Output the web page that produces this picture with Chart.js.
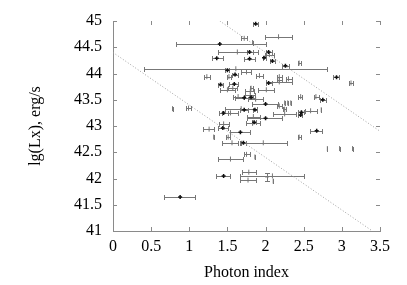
<!DOCTYPE html>
<html><head><meta charset="utf-8">
<script src="https://cdn.jsdelivr.net/npm/chart.js@4"></script>
<style>html,body{margin:0;padding:0;background:#fff;}canvas{display:block;}</style>
</head><body>
<canvas id="c" width="407" height="285"></canvas>
<script>
// ---- data ----
const xTicks = [0, 0.5, 1, 1.5, 2, 2.5, 3, 3.5];
const yTicks = [41, 41.5, 42, 42.5, 43, 43.5, 44, 44.5, 45];

// objects marked with a black "+"
const darkX  = [1.87,1.40,1.79,2.04,1.36,1.79,1.98,2.09,2.26,1.50,1.60,2.93,2.04,1.59,1.41,1.72,1.81,1.86,1.45,2.00,2.47,2.46,2.00,1.85,1.44,1.67,1.71,1.45,2.67,0.88,2.75,1.72];
const darkY  = [44.95,44.56,44.41,44.41,44.29,44.28,44.30,44.24,44.15,44.06,43.98,43.93,43.82,43.80,43.79,43.54,43.55,43.31,43.25,43.42,43.26,43.21,43.15,43.07,42.96,42.88,42.68,42.05,42.91,41.65,43.50,43.31];
const darkLo = [1.84,0.82,1.75,2.01,1.30,1.72,1.96,2.06,2.21,1.47,1.56,2.89,2.00,1.52,1.38,1.60,1.79,1.83,1.39,1.82,2.43,2.43,1.76,1.82,1.37,1.54,1.68,1.35,2.58,0.67,2.72,1.67];
const darkHi = [1.90,2.01,1.83,2.08,1.44,1.86,2.01,2.13,2.31,1.52,1.64,2.96,2.08,1.64,1.44,1.86,1.84,1.89,1.51,2.16,2.51,2.48,2.22,1.88,1.51,1.80,1.74,1.54,2.74,1.08,2.79,1.77];

// objects drawn in grey
const grayX  = [2.17,1.72,1.83,1.63,2.05,2.44,1.61,1.75,1.92,1.23,1.52,2.18,2.30,2.18,2.18,3.12,1.81,2.01,1.50,1.80,1.64,1.80,2.46,2.66,1.87,2.18,2.25,2.29,2.33,2.25,1.68,2.59,2.73,2.25,1.54,0.99,0.78,1.84,1.45,1.83,1.26,1.32,1.51,2.44,1.56,1.97,1.75,1.86,1.54,2.81,2.97,3.14,2.09,1.78,1.77,2.10,1.57];
const grayY  = [44.70,44.67,44.59,44.41,44.36,44.20,44.09,44.03,43.96,43.94,43.94,43.94,43.90,43.88,43.84,43.82,43.72,43.69,43.69,43.66,43.56,43.59,43.56,43.56,43.51,43.38,43.44,43.44,43.44,43.32,43.33,43.29,43.31,43.23,43.25,43.34,43.33,43.18,43.04,43.05,42.94,42.79,42.79,42.79,42.68,42.68,42.46,42.41,42.37,42.57,42.57,42.57,42.05,42.12,41.97,41.95,43.72];
const grayLo = [1.99,1.68,1.83,1.37,1.99,2.42,0.40,1.68,1.88,1.19,1.50,2.15,2.27,2.15,2.01,3.09,1.79,1.90,1.40,1.73,1.57,1.73,2.43,2.63,1.77,2.15,2.25,2.29,2.33,2.23,1.47,2.52,2.73,2.10,1.43,0.96,0.78,1.76,1.39,1.74,1.18,1.32,1.48,2.42,1.43,1.67,1.72,1.86,1.37,2.81,2.97,3.14,1.67,1.69,1.67,2.10,1.51];
const grayHi = [2.35,1.76,1.83,1.90,2.11,2.47,2.81,1.81,1.96,1.27,1.55,2.21,2.34,2.21,2.35,3.15,1.84,2.11,1.60,1.85,1.72,1.86,2.48,2.70,1.97,2.22,2.25,2.29,2.33,2.27,1.89,2.67,2.73,2.40,1.64,1.02,0.78,1.93,1.52,1.93,1.33,1.32,1.54,2.47,1.64,2.28,1.79,1.86,1.71,2.81,2.97,3.14,2.51,1.87,1.88,2.10,1.63];

// one object with a vertical error bar
const vertX  = [2.02];
const vertY  = [42.03];
const vertLo = [41.95];
const vertHi = [42.11];

// dotted boundary lines
const lowLineX  = [0, 3.4];
const lowLineY  = [44.4, 41];
const highLineX = [1.4, 3.5];
const highLineY = [45, 42.9];

// ---- build ----
const pts = (X, Y, L, H) => X.map((x, i) => ({x: x, y: Y[i], xlo: L ? L[i] : x, xhi: H ? H[i] : x}));
const vpts = (X, Y, L, H) => X.map((x, i) => ({x: x, y: Y[i], ylo: L[i], yhi: H[i]}));
const linePts = (X, Y) => X.map((x, i) => ({x: x, y: Y[i]}));

const BAR = '#777777';
const AXIS = '#8a8a8a';
const CAP = 2.5;
const FONT = {family: '"Liberation Serif", "Times New Roman", serif', size: 16};

const errorBars = {
  id: 'errorBars',
  beforeDatasetsDraw(chart) {
    const {ctx, scales: {x, y}, chartArea: a} = chart;
    ctx.save();
    ctx.beginPath(); ctx.rect(a.left, a.top, a.right - a.left, a.bottom - a.top); ctx.clip();
    ctx.strokeStyle = BAR; ctx.lineWidth = 1;
    chart.data.datasets.forEach(ds => {
      if (!ds.errKind) return;
      ds.data.forEach(p => {
        if (ds.errKind === 'x') {
          const yp = Math.round(y.getPixelForValue(p.y)) + 0.5;
          const x1 = Math.round(x.getPixelForValue(p.xlo)) + 0.5;
          const x2 = Math.round(x.getPixelForValue(p.xhi)) + 0.5;
          ctx.beginPath();
          ctx.moveTo(x1, yp); ctx.lineTo(x2, yp);
          ctx.moveTo(x1, yp - CAP); ctx.lineTo(x1, yp + CAP);
          ctx.moveTo(x2, yp - CAP); ctx.lineTo(x2, yp + CAP);
          ctx.stroke();
        } else {
          const xp = Math.round(x.getPixelForValue(p.x)) + 0.5;
          const y1 = Math.round(y.getPixelForValue(p.ylo)) + 0.5;
          const y2 = Math.round(y.getPixelForValue(p.yhi)) + 0.5;
          ctx.beginPath();
          ctx.moveTo(xp, y1); ctx.lineTo(xp, y2);
          ctx.moveTo(xp - CAP, y1); ctx.lineTo(xp + CAP, y1);
          ctx.moveTo(xp - CAP, y2); ctx.lineTo(xp + CAP, y2);
          ctx.stroke();
        }
      });
    });
    ctx.restore();
  }
};

const mirrorTicks = {
  id: 'mirrorTicks',
  afterDraw(chart) {
    const {ctx, scales: {x, y}, chartArea: a} = chart;
    const L = 4;
    ctx.save();
    ctx.strokeStyle = AXIS; ctx.lineWidth = 1;
    ctx.beginPath();
    x.ticks.forEach(t => {
      const px = Math.round(x.getPixelForValue(t.value)) + 0.5;
      ctx.moveTo(px, a.bottom); ctx.lineTo(px, a.bottom - L);
      ctx.moveTo(px, a.top); ctx.lineTo(px, a.top + L);
    });
    y.ticks.forEach(t => {
      const py = Math.round(y.getPixelForValue(t.value)) + 0.5;
      ctx.moveTo(a.left, py); ctx.lineTo(a.left + L, py);
      ctx.moveTo(a.right, py); ctx.lineTo(a.right - L, py);
    });
    ctx.stroke();
    ctx.restore();
  }
};

new Chart(document.getElementById('c'), {
  type: 'scatter',
  data: {
    datasets: [
      {data: pts(darkX, darkY, darkLo, darkHi), errKind: 'x', pointStyle: 'cross', pointRadius: 2, borderWidth: 1.5, borderColor: '#111', backgroundColor: '#111'},
      {data: pts(grayX, grayY, grayLo, grayHi), errKind: 'x', pointStyle: 'line', rotation: 90, pointRadius: 2.5, borderWidth: 1, borderColor: BAR, backgroundColor: BAR},
      {data: vpts(vertX, vertY, vertLo, vertHi), errKind: 'y', pointStyle: 'line', pointRadius: 2, borderWidth: 1, borderColor: BAR},
      {type: 'line', data: linePts(lowLineX, lowLineY), showLine: true, borderColor: '#a0a0a0', borderWidth: 1, borderDash: [1, 2], pointRadius: 0, fill: false},
      {type: 'line', data: linePts(highLineX, highLineY), showLine: true, borderColor: '#a0a0a0', borderWidth: 1, borderDash: [1, 2], pointRadius: 0, fill: false}
    ]
  },
  options: {
    responsive: false, animation: false, devicePixelRatio: 1,
    layout: {padding: {top: 21, right: 27, left: 0, bottom: 0}},
    plugins: {legend: {display: false}, tooltip: {enabled: false}},
    scales: {
      x: {
        type: 'linear', min: 0, max: 3.5,
        afterBuildTicks: s => { s.ticks = xTicks.map(v => ({value: v})); },
        ticks: {padding: 6, color: '#000', font: FONT, maxRotation: 0, autoSkip: false, callback: v => String(v)},
        grid: {display: false, drawTicks: false},
        border: {display: true, color: AXIS, width: 1},
        title: {display: true, text: 'Photon index', color: '#000', font: FONT, padding: {top: 0, bottom: 3}},
        afterFit: s => { s.height = 54; }
      },
      y: {
        type: 'linear', min: 41, max: 45,
        afterBuildTicks: s => { s.ticks = yTicks.map(v => ({value: v})); },
        ticks: {padding: 11, color: '#000', font: FONT, autoSkip: false, callback: v => String(v)},
        grid: {display: false, drawTicks: false},
        border: {display: true, color: AXIS, width: 1},
        title: {display: true, text: 'lg(Lx), erg/s', color: '#000', font: FONT, padding: {top: 26, bottom: 0}},
        afterFit: s => { s.width = 113; }
      }
    }
  },
  plugins: [errorBars, mirrorTicks]
});
</script>
</body></html>
